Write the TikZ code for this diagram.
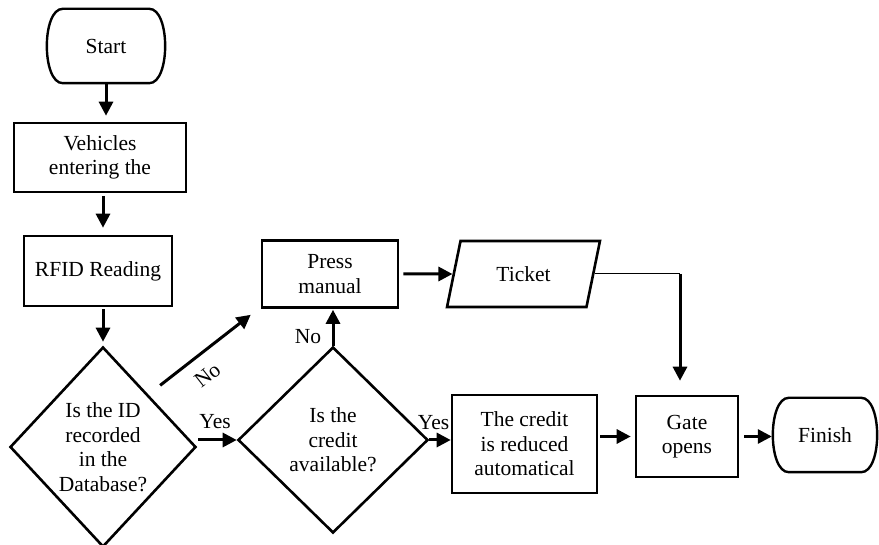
\documentclass[tikz,border=0pt]{standalone}
\usepackage{fontspec}
\setmainfont{Liberation Serif}
\usetikzlibrary{arrows.meta,shapes.geometric}
\begin{document}
\begin{tikzpicture}[x=1pt, y=-1pt, font=\fontsize{21.5}{24.5}\selectfont,
	box/.style={draw, line width=2.6pt, align=center, inner sep=0pt},
	decision/.style={draw, shape=diamond, line width=2.6pt, align=center, inner sep=0pt},
	term/.style={align=center, inner sep=0pt},
	io/.style={draw, trapezium, trapezium left angle=69, trapezium right angle=111, trapezium stretches=true, line width=2.6pt, inner sep=0pt},
	arr/.style={-{Triangle[length=14pt,width=14pt]}, line width=3pt}]
	\useasboundingbox (0,0) rectangle (879,545);
	% nodes
	\node[term, minimum width=118, minimum height=74] (start) at (106,46) {Start};
	\node[box, minimum width=172, minimum height=69] (veh) at (100,157.5) {Vehicles\\entering the};
	\node[box, minimum width=148, minimum height=70] (rfid) at (98,271) {RFID Reading};
	\node[decision, minimum width=186, minimum height=200] (db) at (103,447) {Is the ID\\recorded\\in the\\Database?};
	\node[decision, minimum width=190, minimum height=186] (cred) at (333,440) {Is the\\credit\\available?};
	\node[box, minimum width=136, minimum height=67] (press) at (330,274) {Press\\manual};
	\node[io, minimum width=153, minimum height=66] (ticket) at (523.5,274) {Ticket};
	\node[box, minimum width=145, minimum height=98] (auto) at (524.5,444) {The credit\\is reduced\\automatical};
	\node[box, minimum width=102, minimum height=81] (gate) at (687,436.5) {Gate\\opens};
	\node[term, minimum width=104, minimum height=74] (finish) at (825,435) {Finish};
	\foreach \n in {start,finish}
		\draw[line width=2.4pt] ([xshift=16pt]\n.north west) -- ([xshift=-16pt]\n.north east)
			.. controls ([xshift=5.3pt]\n.north east) and ([xshift=5.3pt]\n.south east) .. ([xshift=-16pt]\n.south east)
			-- ([xshift=16pt]\n.south west)
			.. controls ([xshift=-5.3pt]\n.south west) and ([xshift=-5.3pt]\n.north west) .. cycle;
	% arrows
	\draw[arr, shorten >=6pt] (start.south) -- (start.south |- veh.north);
	\draw[arr, shorten <=3pt, shorten >=7pt] (db.north |- veh.south) -- (db.north |- rfid.north);
	\draw[arr, shorten <=2pt, shorten >=4pt] (db.north |- rfid.south) -- (db.north);
	\draw[arr] ([shift={(10,-11)}]db.north east) -- ([shift={(-10,6)}]press.south west) node[pos=.5, xshift=2pt, yshift=-25pt, rotate=38]{No};
	\draw[arr, shorten <=1pt] (db.east |- cred.west) -- (cred.west) node[pos=.45, above=6pt]{Yes};
	\draw[arr, shorten >=1pt] (cred.north) -- (cred.north |- press.south) node[pos=.25, left=1pt, xshift=-6pt]{No};
	\draw[arr] (cred.east) -- (cred.east -| auto.west) node[pos=.2, above=5pt]{Yes};
	\draw[arr, shorten <=4pt] (press.east) -- (ticket.west);
	\draw[line width=1pt] (ticket.east) -- ([xshift=-7pt]ticket.east -| gate.north);
	\draw[arr, shorten >=14pt] ([xshift=-7pt]ticket.east -| gate.north) -- ([xshift=-7pt]gate.north);
	\draw[arr, shorten <=2pt, shorten >=4pt] (auto.east |- gate.west) -- (gate.west);
	\draw[arr, shorten <=5pt, shorten >=1pt] (gate.east) -- (gate.east -| finish.west);
\end{tikzpicture}
\end{document}
